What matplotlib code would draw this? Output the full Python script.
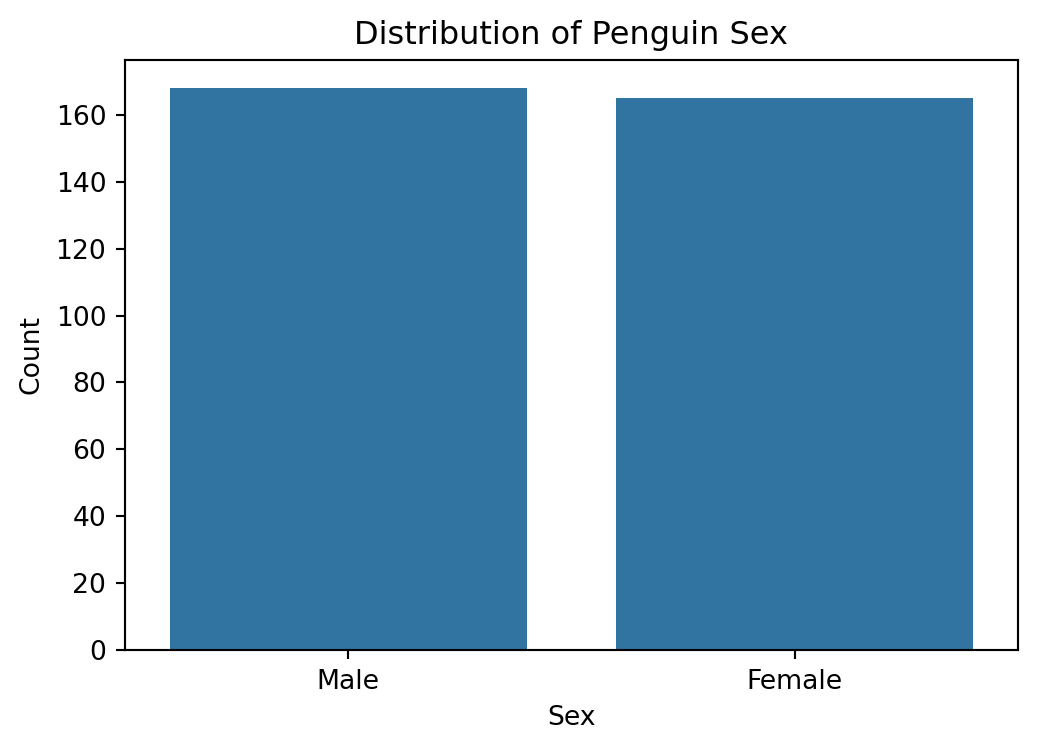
import matplotlib
matplotlib.use('Agg')
import matplotlib.pyplot as plt
import seaborn as sns

sexes = ['Male', 'Female']
counts = [168, 165]

dpi = 192
fig = plt.figure(figsize=(1037 / dpi, 751 / dpi), dpi=dpi)
ax = fig.add_axes([125 / 1037, 1 - 650 / 751, (1018 - 125) / 1037, (650 - 60) / 751])

sns.barplot(x=sexes, y=counts, ax=ax)
ax.set_title('Distribution of Penguin Sex')
ax.set_xlabel('Sex')
ax.set_ylabel('Count')

fig.savefig('out.png', dpi=dpi)
